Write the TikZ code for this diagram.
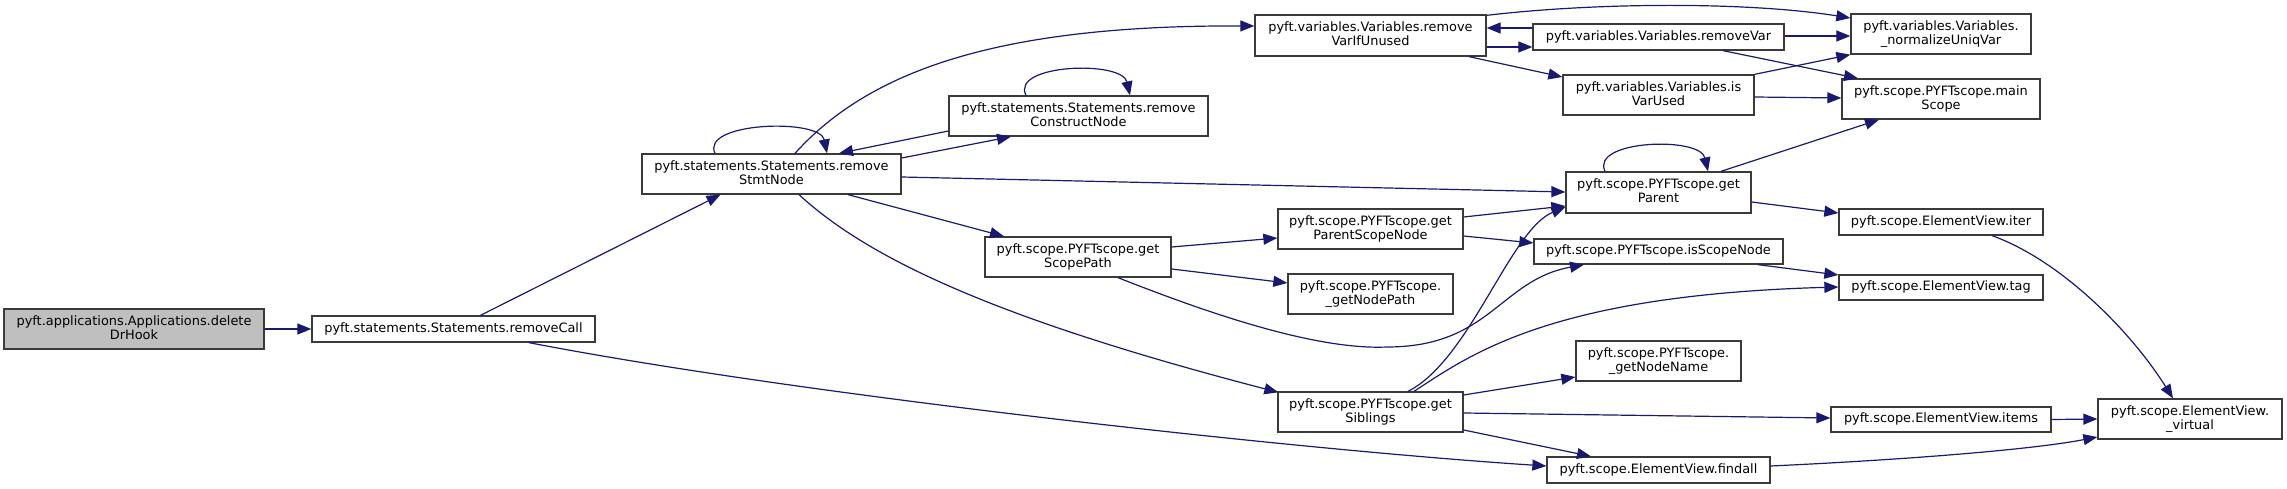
\documentclass[tikz,border=0pt]{standalone}
\usepackage{fontspec}
\setmainfont{DejaVu Sans}
\usetikzlibrary{arrows.meta}
\definecolor{edgecol}{HTML}{191970}
\definecolor{boxborder}{HTML}{3A3A3A}
\definecolor{rootfill}{HTML}{BFBFBF}
\begin{document}
\begin{tikzpicture}[x=1pt,y=-1pt,
  fnode/.style={draw=boxborder, line width=1.3pt, fill=white, rectangle, inner sep=0pt, font=\fontsize{12.9pt}{14.3pt}\selectfont, text height=9.4pt, text depth=2.8pt},
  rootnode/.style={fnode, fill=rootfill},
  ln/.style={inner sep=0pt, font=\fontsize{12.9pt}{14.3pt}\selectfont, text height=9.4pt, text depth=2.8pt},
  call/.style={draw=edgecol, line width=1.2pt, -{Triangle[length=14pt,width=11pt]}},
]
\useasboundingbox (0,0) rectangle (2287,489);
% boxes
\node[rootnode, minimum width=260pt, minimum height=40pt] (dr) at (134,329) {};
\node[fnode, minimum width=283pt, minimum height=26pt] (rc) at (453.5,329) {pyft.statements.Statements.removeCall};
\node[fnode, minimum width=259pt, minimum height=40pt] (rsn) at (771.5,174) {};
\node[fnode, minimum width=259pt, minimum height=40pt] (rcn) at (1078.5,116) {};
\node[fnode, minimum width=186pt, minimum height=40pt] (gsp) at (1078,257) {};
\node[fnode, minimum width=231pt, minimum height=41pt] (rviu) at (1370.5,35.5) {};
\node[fnode, minimum width=185pt, minimum height=40pt] (gpsn) at (1370.5,229) {};
\node[fnode, minimum width=165pt, minimum height=40pt] (gnp) at (1370.5,294) {};
\node[fnode, minimum width=185pt, minimum height=40pt] (gsib) at (1370.5,412) {};
\node[fnode, minimum width=251pt, minimum height=26pt] (rv) at (1658.5,37) {pyft.variables.Variables.removeVar};
\node[fnode, minimum width=191pt, minimum height=40pt] (ivu) at (1658.5,95) {};
\node[fnode, minimum width=185pt, minimum height=41pt] (gp) at (1658.5,192.5) {};
\node[fnode, minimum width=249pt, minimum height=25pt] (isn) at (1658.5,251.5) {pyft.scope.PYFTscope.isScopeNode};
\node[fnode, minimum width=165pt, minimum height=40pt] (gnn) at (1658.5,361) {};
\node[fnode, minimum width=223pt, minimum height=26pt] (fa) at (1658.5,470) {pyft.scope.ElementView.findall};
\node[fnode, minimum width=180pt, minimum height=40pt] (nuv) at (1941,34) {};
\node[fnode, minimum width=198pt, minimum height=40pt] (ms) at (1941,99) {};
\node[fnode, minimum width=204pt, minimum height=26pt] (it) at (1941,222) {pyft.scope.ElementView.iter};
\node[fnode, minimum width=204pt, minimum height=25pt] (tag) at (1941,287.5) {pyft.scope.ElementView.tag};
\node[fnode, minimum width=220pt, minimum height=25pt] (items) at (1941,419.5) {pyft.scope.ElementView.items};
\node[fnode, minimum width=184pt, minimum height=40pt] (vir) at (2190,419) {};
% two-line labels
\node[ln] (dr-a) at ([yshift=7.15pt]dr.center) {pyft.applications.Applications.delete};
\node[ln] (dr-b) at ([yshift=-7.15pt]dr.center) {DrHook};
\node[ln] (rsn-a) at ([yshift=7.15pt]rsn.center) {pyft.statements.Statements.remove};
\node[ln] (rsn-b) at ([yshift=-7.15pt]rsn.center) {StmtNode};
\node[ln] (rcn-a) at ([yshift=7.15pt]rcn.center) {pyft.statements.Statements.remove};
\node[ln] (rcn-b) at ([yshift=-7.15pt]rcn.center) {ConstructNode};
\node[ln] (gsp-a) at ([yshift=7.15pt]gsp.center) {pyft.scope.PYFTscope.get};
\node[ln] (gsp-b) at ([yshift=-7.15pt]gsp.center) {ScopePath};
\node[ln] (rviu-a) at ([yshift=7.15pt]rviu.center) {pyft.variables.Variables.remove};
\node[ln] (rviu-b) at ([yshift=-7.15pt]rviu.center) {VarIfUnused};
\node[ln] (gpsn-a) at ([yshift=7.15pt]gpsn.center) {pyft.scope.PYFTscope.get};
\node[ln] (gpsn-b) at ([yshift=-7.15pt]gpsn.center) {ParentScopeNode};
\node[ln] (gnp-a) at ([yshift=7.15pt]gnp.center) {pyft.scope.PYFTscope.};
\node[ln] (gnp-b) at ([yshift=-7.15pt]gnp.center) {\_getNodePath};
\node[ln] (gsib-a) at ([yshift=7.15pt]gsib.center) {pyft.scope.PYFTscope.get};
\node[ln] (gsib-b) at ([yshift=-7.15pt]gsib.center) {Siblings};
\node[ln] (ivu-a) at ([yshift=7.15pt]ivu.center) {pyft.variables.Variables.is};
\node[ln] (ivu-b) at ([yshift=-7.15pt]ivu.center) {VarUsed};
\node[ln] (gp-a) at ([yshift=7.15pt]gp.center) {pyft.scope.PYFTscope.get};
\node[ln] (gp-b) at ([yshift=-7.15pt]gp.center) {Parent};
\node[ln] (gnn-a) at ([yshift=7.15pt]gnn.center) {pyft.scope.PYFTscope.};
\node[ln] (gnn-b) at ([yshift=-7.15pt]gnn.center) {\_getNodeName};
\node[ln] (nuv-a) at ([yshift=7.15pt]nuv.center) {pyft.variables.Variables.};
\node[ln] (nuv-b) at ([yshift=-7.15pt]nuv.center) {\_normalizeUniqVar};
\node[ln] (ms-a) at ([yshift=7.15pt]ms.center) {pyft.scope.PYFTscope.main};
\node[ln] (ms-b) at ([yshift=-7.15pt]ms.center) {Scope};
\node[ln] (vir-a) at ([yshift=7.15pt]vir.center) {pyft.scope.ElementView.};
\node[ln] (vir-b) at ([yshift=-7.15pt]vir.center) {\_virtual};
% edges
\draw[call] (dr.east) -- (rc.west);
\draw[call] ([xshift=27pt]rc.north) -- ([xshift=-51pt]rsn.south);
\draw[call] ([xshift=75.5pt]rc.south) .. controls (800,395) and (1300,450) .. ([yshift=4pt]fa.west);
\draw[call] ([xshift=-56.5pt]rsn.north) .. controls (700,122) and (820,118) .. ([xshift=55.5pt]rsn.north);
\draw[call] ([yshift=16pt]rsn.east) -- ([xshift=-67.5pt]rcn.south);
\draw[call] ([yshift=-15pt]rcn.west) -- ([xshift=67.5pt]rsn.north);
\draw[call] ([xshift=-52.5pt]rcn.north) .. controls (1010,64) and (1122,60) .. ([xshift=51.5pt]rcn.north);
\draw[call] ([xshift=23.5pt]rsn.north) .. controls (870,70) and (1000,25) .. ([yshift=9.5pt]rviu.west);
\draw[call] ([yshift=-3pt]rsn.east) -- ([yshift=0.5pt]gp.west);
\draw[call] ([xshift=76.5pt]rsn.south) -- ([xshift=-74pt]gsp.north);
\draw[call] ([xshift=27.5pt]rsn.south) .. controls (870,260) and (1000,320) .. ([xshift=1pt,yshift=-1pt]gsib.north west);
\draw[call] ([yshift=10pt]gsp.east) -- ([yshift=-9pt]gpsn.west);
\draw[call] ([yshift=-12pt]gsp.east) -- ([yshift=11pt]gnp.west);
\draw[call] ([xshift=40pt]gsp.south) .. controls (1220,318) and (1320,350) .. (1387,347) .. controls (1490,347) and (1500,280) .. ([xshift=-74.5pt]isn.south);
\draw[call] ([xshift=37.5pt]gsib.north) .. controls (1470,360) and (1510,230) .. ([yshift=-14.5pt]gp.west);
\draw[call] ([xshift=43.5pt]gsib.north) .. controls (1470,355) and (1550,295) .. ([yshift=0.5pt]tag.west);
\draw[call] ([yshift=12pt]gpsn.east) -- ([yshift=-13.5pt]gp.west);
\draw[call] ([yshift=-7pt]gpsn.east) -- ([yshift=8.5pt]isn.west);
\draw[call] ([xshift=-53.5pt]gp.north) .. controls (1590,140) and (1700,136) .. ([xshift=49.5pt]gp.north);
\draw[call] ([xshift=62.5pt]gp.north) -- ([xshift=-62pt]ms.south);
\draw[call] ([yshift=-9.5pt]gp.east) -- ([yshift=9pt]it.west);
\draw[call] ([xshift=51pt]it.south) .. controls (2060,260) and (2130,330) .. ([xshift=-17pt]vir.north);
\draw[call] ([xshift=99.5pt]isn.south) -- ([yshift=12.5pt]tag.west);
\draw[call] ([yshift=-1pt]rviu.north east) .. controls (1600,2) and (1750,2) .. ([yshift=16pt]nuv.west);
\draw[call] ([yshift=-11.5pt]rviu.east) -- ([yshift=-10pt]rv.west);
\draw[call] ([yshift=9pt]rv.west) -- ([yshift=7.5pt]rviu.east);
\draw[call] ([xshift=98.5pt]rviu.south) -- ([yshift=18pt]ivu.west);
\draw[call] ([yshift=1pt]rv.east) -- ([yshift=-2pt]nuv.west);
\draw[call] ([xshift=64.5pt]rv.south) -- ([xshift=-83pt]ms.north);
\draw[call] (ivu.north east) -- (nuv.south west);
\draw[call] ([yshift=-2pt]ivu.east) -- ([yshift=1pt]ms.west);
\draw[call] ([yshift=17pt]gsib.east) -- ([yshift=-16pt]gnn.west);
\draw[call] ([yshift=-1pt]gsib.east) -- ([yshift=1.5pt]items.west);
\draw[call] ([yshift=-18pt]gsib.east) -- ([xshift=-67.5pt]fa.north);
\draw[call] (items.east) -- (vir.west);
\draw[call] ([yshift=4pt]fa.east) .. controls (1900,460) and (2030,450) .. ([yshift=-18pt]vir.west);
\end{tikzpicture}
\end{document}
